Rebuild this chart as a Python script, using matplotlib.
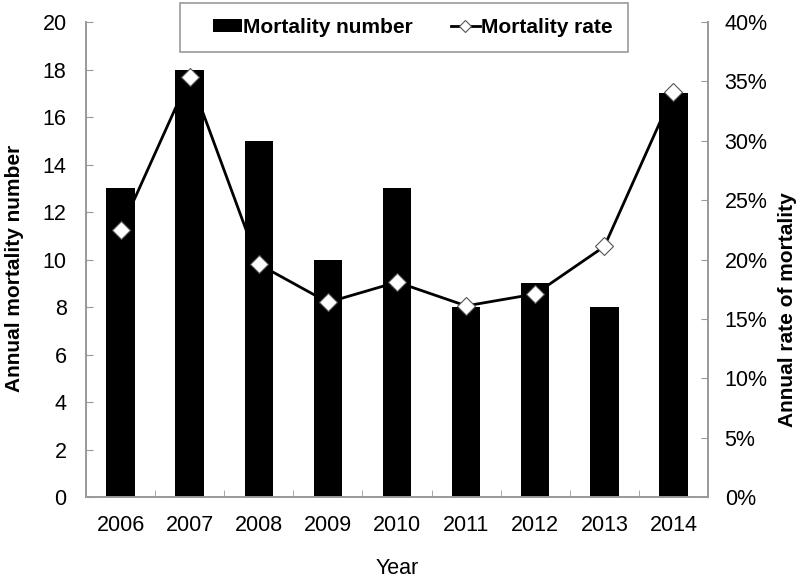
import numpy as np
import matplotlib.pyplot as plt
from matplotlib.patches import Rectangle
from matplotlib.ticker import FixedLocator, FuncFormatter

plt.rc('font', family=['Liberation Sans', 'DejaVu Sans'], size=15.5)

# data
years = ['2006', '2007', '2008', '2009', '2010', '2011', '2012', '2013', '2014']
deaths = [13, 18, 15, 10, 13, 8, 9, 8, 17]
rate = [22.5, 35.4, 19.6, 16.4, 18.1, 16.1, 17.1, 21.1, 34.1]  # percent

x = np.arange(len(years))
grey = '#999999'

fig = plt.figure(figsize=(8, 5.8), dpi=100)
ax = fig.add_axes([0.1075, 0.143, 0.7775, 0.819])
ax2 = ax.twinx()

bars = ax.bar(x, deaths, width=0.41, color='black', label='Mortality number',
              zorder=2)
line, = ax2.plot(x, rate, color='black', lw=2, marker='D', ms=9,
                 mfc='white', mec='#555555', mew=0.8, label='Mortality rate')

ax.set_xlim(-0.5, len(years) - 0.5)
ax.set_ylim(0, 20)
ax2.set_ylim(0, 40)
ax.set_yticks(np.arange(0, 21, 2))
ax2.set_yticks(np.arange(0, 41, 5))
ax2.yaxis.set_major_formatter(FuncFormatter(lambda v, p: f'{v:.0f}%'))

ax.set_xticks(x)
ax.set_xticklabels(years)
ax.xaxis.set_minor_locator(FixedLocator(np.arange(0.5, len(years) - 1, 1)))
ax.tick_params(axis='x', which='major', length=0, pad=13)
ax.tick_params(axis='x', which='minor', direction='in', length=5,
               color=grey)
ax.tick_params(axis='y', direction='in', length=5, color=grey, pad=14)
ax2.tick_params(axis='y', direction='in', length=5, color=grey, pad=12)

for a in (ax, ax2):
    a.spines['top'].set_visible(False)
    for s in ('left', 'right', 'bottom'):
        a.spines[s].set_color(grey)
        a.spines[s].set_linewidth(1.2)

ax.set_ylabel('Annual mortality number', fontweight='bold', fontsize=15)
ax.yaxis.set_label_coords(-0.1, 0.482)
ax2.set_ylabel('Annual rate of mortality', fontweight='bold', fontsize=15)
ax2.yaxis.set_label_coords(1.113, 0.394)
ax.set_xlabel('Year', fontsize=15.5, labelpad=16)

# legend box across the top
fig.patches.append(Rectangle((0.225, 0.9103), 0.56, 0.0845,
                             transform=fig.transFigure, fill=True,
                             facecolor='white', edgecolor=grey, lw=1.2,
                             zorder=9))
leg = fig.legend([bars, line], ['Mortality number', 'Mortality rate'],
                 loc='center', bbox_to_anchor=(0.516, 0.953), ncol=2,
                 frameon=False, prop={'weight': 'bold', 'size': 15},
                 handlelength=1.4, handleheight=0.6, handletextpad=0.05,
                 columnspacing=1.8, borderpad=0, markerscale=0.7)
leg.set_zorder(10)

fig.savefig('out.png', dpi=100)
